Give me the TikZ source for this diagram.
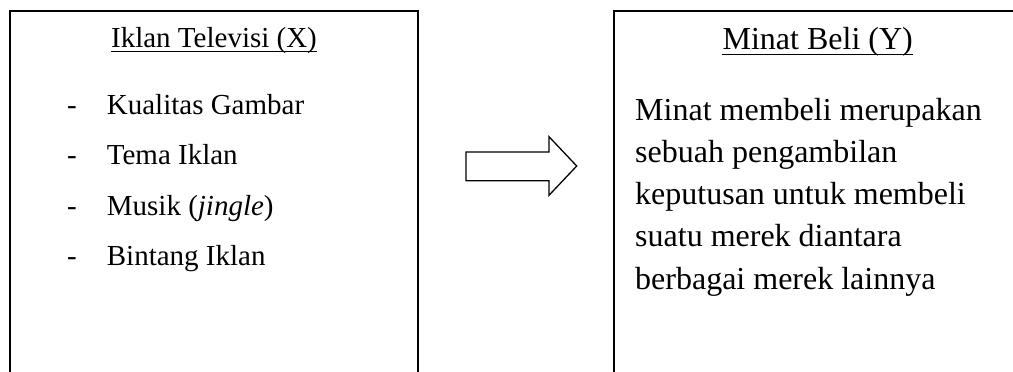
\documentclass[tikz,border=0pt]{standalone}
\usepackage{fontspec}
\setmainfont{Liberation Serif}
\begin{document}
\begin{tikzpicture}[x=1pt,y=-1pt,
  boxline/.style={line width=2pt},
  ltxt/.style={anchor=base west,inner sep=0pt,font=\fontsize{29}{34}\selectfont},
  rtxt/.style={anchor=base west,inner sep=0pt,font=\fontsize{32}{38}\selectfont},
  ttl/.style={anchor=base,inner sep=0pt},
  uline/.style={line width=1.4pt}]
\useasboundingbox (0,0) rectangle (1013,372);
\clip (0,0) rectangle (1013,372);
% boxes
\draw[boxline] (10,390) -- (10,11) -- (417.7,11) -- (417.7,390);
\draw[boxline] (614,390) -- (614,11) -- (1022,11) -- (1022,390);
% left title
\node[ttl,font=\fontsize{29}{34}\selectfont] (tx) at (214,47) {Iklan Televisi (X)};
\draw[uline] ([yshift=-4.7pt]tx.base west) -- ([yshift=-4.7pt]tx.base east);
% left list
\node[ltxt] (d1) at (67,114.3) {-};
\node[ltxt] (k1) at (106.7,114.3) {Kualitas Gambar};
\node[ltxt] (d2) at (67,164.3) {-};
\node[ltxt] (k2) at (106.7,164.3) {Tema Iklan};
\node[ltxt] (d3) at (67,215.3) {-};
\node[ltxt] (k3) at (106.7,215.3) {Musik (\textit{jingle})};
\node[ltxt] (d4) at (67,265.3) {-};
\node[ltxt] (k4) at (106.7,265.3) {Bintang Iklan};
% right title
\node[ttl,font=\fontsize{32}{38}\selectfont] (ty) at (817.7,49.3) {Minat Beli (Y)};
\draw[uline] ([yshift=-4.9pt]ty.base west) -- ([yshift=-4.9pt]ty.base east);
% right paragraph
\node[rtxt] (p1) at (635,120) {Minat membeli merupakan};
\node[rtxt] (p2) at (635,162) {sebuah pengambilan};
\node[rtxt] (p3) at (635,204.5) {keputusan untuk membeli};
\node[rtxt] (p4) at (635,246) {suatu merek diantara};
\node[rtxt] (p5) at (635,289) {berbagai merek lainnya};
% block arrow
\draw[line width=1.3pt,line join=miter] (466,152) -- (549,152) -- (549,136.7) -- (576.7,166) -- (549,195.3) -- (549,180.7) -- (466,180.7) -- cycle;
\end{tikzpicture}
\end{document}
